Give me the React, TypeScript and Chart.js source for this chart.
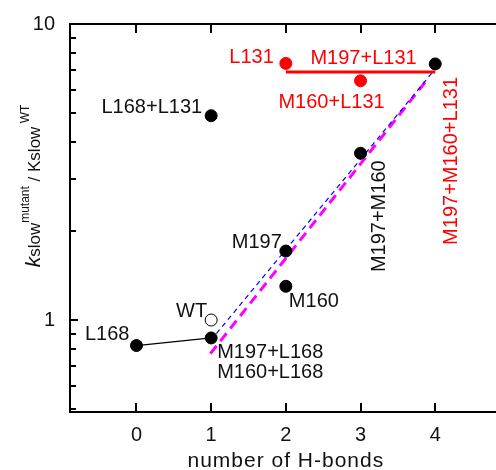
import React, { useEffect, useRef } from 'react';
import { Chart, registerables } from 'chart.js';

Chart.register(...registerables);

const FONT = '"Liberation Sans", Arial, sans-serif';

// axis ticks
const X_TICKS = [0, 1, 2, 3, 4];
const Y_TICKS = [1, 10];
const Y_MINOR = [0.5, 0.6, 0.7, 0.8, 0.9, 2, 3, 4, 5, 6, 7, 8, 9];

// black connecting line L168 -> M197+L168 / M160+L168
const L168_LINE_X = [0, 1];
const L168_LINE_Y = [0.82, 0.87];
// other black points: L168+L131, M197, M160, M197+M160, M197+M160+L131
const BLACK_X = [1, 2, 2, 3, 4];
const BLACK_Y = [4.9, 1.71, 1.3, 3.66, 7.33];
// wild type (open)
const WT_X = [1];
const WT_Y = [1.0];
// red points: L131, M160+L131
const RED_X = [2, 3];
const RED_Y = [7.36, 6.43];
// red horizontal line
const RED_LINE_X = [2, 4];
const RED_LINE_Y = [6.88, 6.88];
// blue dashed fit
const BLUE_X = [1.07, 3.97];
const BLUE_Y = [0.9, 6.9];
// magenta dashed fit
const MAGENTA_X = [0.99, 3.88];
const MAGENTA_Y = [0.77, 6.43];

// text annotations anchored at data coordinates
const LABEL_TEXT = ['L168', 'WT', 'M197+L168', 'M160+L168', 'L168+L131', 'M197', 'M160', 'L131', 'M197+L131', 'M160+L131', 'M197+M160', 'M197+M160+L131'];
const LABEL_X = [0, 1, 1, 1, 1, 2, 2, 2, 3, 3, 3, 4];
const LABEL_Y = [0.82, 1.0, 0.87, 0.87, 4.9, 1.71, 1.3, 7.36, 6.88, 6.43, 3.66, 7.33];
const LABEL_RED = [false, false, false, false, false, false, false, true, true, true, false, true];

type Anno = { align: CanvasTextAlign; dx: number; dy: number; rot: boolean };
const LABEL_STYLE: Anno[] = [
  { align: 'right', dx: -7, dy: -13, rot: false },
  { align: 'right', dx: -4, dy: -10, rot: false },
  { align: 'left', dx: 6, dy: 13, rot: false },
  { align: 'left', dx: 6, dy: 33, rot: false },
  { align: 'right', dx: -9, dy: -10, rot: false },
  { align: 'right', dx: -4, dy: -10, rot: false },
  { align: 'left', dx: 3, dy: 14, rot: false },
  { align: 'right', dx: -12, dy: -7, rot: false },
  { align: 'center', dx: 3, dy: -15, rot: false },
  { align: 'center', dx: -29, dy: 20, rot: false },
  { align: 'center', dx: 17, dy: 63, rot: true },
  { align: 'center', dx: 15, dy: 97, rot: true },
];

const zip = (xs: number[], ys: number[]) => xs.map((x, i) => ({ x, y: ys[i] }));

const framePlugin = {
  id: 'frame',
  beforeDatasetsDraw(chart: any) {
    const { ctx, chartArea } = chart;
    const { left, top, bottom } = chartArea;
    const right = chart.width;
    const xs = chart.scales.x;
    const ys = chart.scales.y;
    ctx.save();
    ctx.strokeStyle = '#000';
    ctx.lineWidth = 2;
    ctx.beginPath();
    ctx.moveTo(right, top);
    ctx.lineTo(left, top);
    ctx.lineTo(left, bottom);
    ctx.lineTo(right, bottom);
    ctx.stroke();
    ctx.beginPath();
    X_TICKS.forEach((v) => {
      const px = Math.round(xs.getPixelForValue(v));
      ctx.moveTo(px, top);
      ctx.lineTo(px, top + 9);
      ctx.moveTo(px, bottom);
      ctx.lineTo(px, bottom - 9);
    });
    Y_MINOR.forEach((v) => {
      const py = Math.round(ys.getPixelForValue(v));
      ctx.moveTo(left, py);
      ctx.lineTo(left + 6, py);
    });
    Y_TICKS.forEach((v) => {
      const py = Math.round(ys.getPixelForValue(v));
      ctx.moveTo(left, py);
      ctx.lineTo(left + 8, py);
    });
    ctx.stroke();
    ctx.restore();
  },
  afterDraw(chart: any) {
    const { ctx, chartArea } = chart;
    const xs = chart.scales.x;
    const ys = chart.scales.y;
    ctx.save();
    ctx.font = `20px ${FONT}`;
    ctx.textBaseline = 'alphabetic';
    LABEL_TEXT.forEach((t, i) => {
      const st = LABEL_STYLE[i];
      const px = xs.getPixelForValue(LABEL_X[i]) + st.dx;
      const py = ys.getPixelForValue(LABEL_Y[i]) + st.dy;
      ctx.fillStyle = LABEL_RED[i] ? '#ff0000' : '#111';
      if (st.rot) {
        ctx.save();
        ctx.translate(px, py);
        ctx.rotate(-Math.PI / 2);
        ctx.textAlign = 'center';
        ctx.fillText(t, 0, 7);
        ctx.restore();
      } else {
        ctx.textAlign = st.align;
        ctx.fillText(t, px, py + 7);
      }
    });

    // x axis title
    ctx.fillStyle = '#111';
    ctx.textAlign = 'center';
    ctx.font = `21px ${FONT}`;
    (ctx as any).letterSpacing = '1px';
    ctx.fillText('number of H-bonds', xs.getPixelForValue(2), 467);
    (ctx as any).letterSpacing = '0px';

    // y axis title (rotated, rich text)
    const segs: { t: string; font: string; rise: number }[] = [
      { t: 'k', font: `italic 21px ${FONT}`, rise: 0 },
      { t: 'slow', font: `17px ${FONT}`, rise: 0 },
      { t: 'mutant', font: `12px ${FONT}`, rise: 11 },
      { t: ' / Kslow', font: `17px ${FONT}`, rise: 0 },
      { t: ' WT', font: `12px ${FONT}`, rise: 11 },
    ];
    let total = 0;
    const widths = segs.map((s) => {
      ctx.font = s.font;
      const w = ctx.measureText(s.t).width;
      total += w;
      return w;
    });
    const cy = chartArea.top + 162;
    ctx.translate(40, cy);
    ctx.rotate(-Math.PI / 2);
    ctx.textAlign = 'left';
    let cx = -total / 2;
    segs.forEach((s, i) => {
      ctx.font = s.font;
      ctx.fillText(s.t, cx, -s.rise);
      cx += widths[i];
    });
    ctx.restore();
  },
};

export default function App() {
  const ref = useRef<HTMLCanvasElement>(null);
  useEffect(() => {
    document.body.style.margin = '0';
    const chart = new Chart(ref.current as HTMLCanvasElement, {
      type: 'line',
      data: {
        datasets: [
          {
            label: 'WT',
            data: zip(WT_X, WT_Y),
            showLine: false,
            pointRadius: 6,
            pointBorderWidth: 1,
            pointBackgroundColor: '#fff',
            pointBorderColor: '#000',
          },
          {
            label: 'black',
            data: zip(BLACK_X, BLACK_Y),
            showLine: false,
            pointRadius: 6,
            pointBorderWidth: 1,
            pointBackgroundColor: '#000',
            pointBorderColor: '#000',
          },
          {
            label: 'red',
            data: zip(RED_X, RED_Y),
            showLine: false,
            pointRadius: 6,
            pointBorderWidth: 1,
            pointBackgroundColor: '#ff0000',
            pointBorderColor: '#ff0000',
          },
          {
            label: 'L168 line',
            data: zip(L168_LINE_X, L168_LINE_Y),
            borderColor: '#000',
            borderWidth: 1.2,
            pointRadius: 6,
            pointBorderWidth: 1,
            pointBackgroundColor: '#000',
            pointBorderColor: '#000',
          },
          {
            label: 'red line',
            data: zip(RED_LINE_X, RED_LINE_Y),
            borderColor: '#ff0000',
            borderWidth: 3,
            pointRadius: 0,
          },
          {
            label: 'blue',
            data: zip(BLUE_X, BLUE_Y),
            borderColor: '#0000ff',
            borderWidth: 1.2,
            borderDash: [5, 4],
            pointRadius: 0,
          },
          {
            label: 'magenta',
            data: zip(MAGENTA_X, MAGENTA_Y),
            borderColor: '#ff00ff',
            borderWidth: 3,
            borderDash: [10, 6],
            pointRadius: 0,
          },
        ],
      },
      options: {
        animation: false,
        responsive: false,
        maintainAspectRatio: false,
        layout: { padding: { top: 24, right: 0, left: 0, bottom: 0 } },
        plugins: { legend: { display: false }, tooltip: { enabled: false } },
        scales: {
          x: {
            type: 'linear',
            min: -0.89,
            max: 4.72,
            afterBuildTicks: (s: any) => {
              s.ticks = X_TICKS.map((v) => ({ value: v }));
            },
            afterFit: (s: any) => {
              s.height = 58;
              s.paddingLeft = 0;
              s.paddingRight = 0;
            },
            grid: { display: false, drawTicks: false },
            border: { display: false },
            ticks: {
              font: { family: FONT, size: 20 },
              color: '#111',
              padding: 11,
              maxRotation: 0,
              autoSkip: false,
            },
          },
          y: {
            type: 'logarithmic',
            min: 0.489,
            max: 10,
            afterBuildTicks: (s: any) => {
              s.ticks = Y_TICKS.map((v) => ({ value: v }));
            },
            afterFit: (s: any) => {
              s.width = 70;
              s.paddingTop = 0;
              s.paddingBottom = 0;
            },
            grid: { display: false, drawTicks: false },
            border: { display: false },
            ticks: {
              font: { family: FONT, size: 20 },
              color: '#111',
              padding: 15,
              autoSkip: false,
              callback: (v: any) => String(v),
            },
          },
        },
      },
      plugins: [framePlugin],
    } as any);
    return () => chart.destroy();
  }, []);
  return <canvas ref={ref} width={496} height={470} style={{ display: 'block', width: 496, height: 470 }} />;
}
